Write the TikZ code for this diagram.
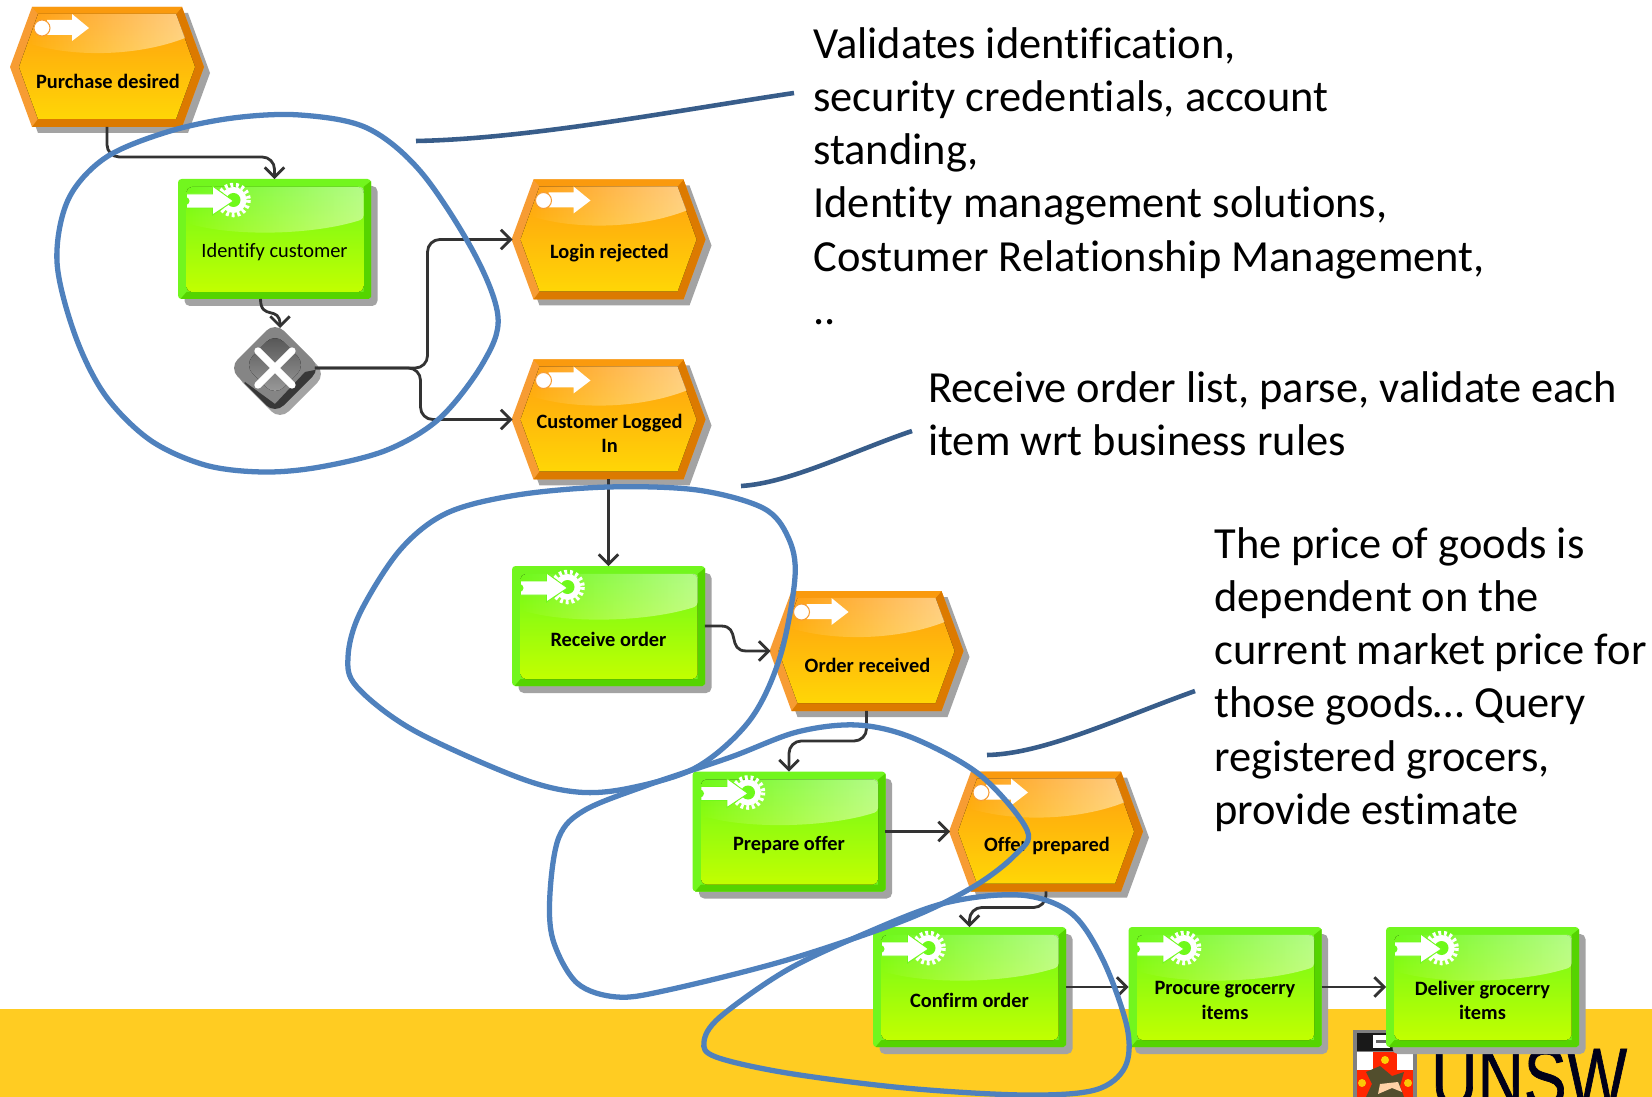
\documentclass[tikz,border=0pt]{standalone}
\usepackage{fontspec}
\setmainfont{Carlito}[Ligatures=NoCommon]
\newfontfamily\logofont{Liberation Sans}[FakeBold=1]
\usetikzlibrary{arrows.meta,calc,shapes.geometric,fadings}
\definecolor{shadowgray}{HTML}{A3A3A3}
\definecolor{evtLight}{HTML}{F79C33}
\definecolor{evtDark}{HTML}{DC7A00}
\definecolor{evtTop}{HTML}{FF9F10}
\definecolor{evtMid}{HTML}{FFAC08}
\definecolor{evtBot}{HTML}{FFD606}
\definecolor{fnLight}{HTML}{72F61E}
\definecolor{fnDark}{HTML}{55D400}
\definecolor{fnTop}{HTML}{6FF91A}
\definecolor{fnMid}{HTML}{95FF00}
\definecolor{fnBot}{HTML}{C2FF00}
\definecolor{band}{HTML}{FFCC22}
\definecolor{loopblue}{HTML}{4F81BD}
\definecolor{calloutblue}{HTML}{385D8A}
\definecolor{connector}{HTML}{333333}
\tikzfading[name=glossfade,left color=transparent!100,right color=transparent!52]
\tikzset{
  x=0.02cm,y=-0.02cm,
  conn/.style={draw=connector,line width=1.6pt,rounded corners=7pt,-{Straight Barb[length=5.5pt,width=11pt]}},
  loopcurve/.style={draw=loopblue,line width=3pt,smooth cycle,tension=0.55},
  callout/.style={draw=calloutblue,line width=2.6pt},
  anchorbox/.style={minimum width=3.86cm,minimum height=2.4cm,inner sep=0pt,outer sep=0pt},
  boxlabel/.style={align=center,text=black,inner sep=0pt,font=\fontsize{11.6}{14}\selectfont\bfseries},
  fnlabelplain/.style={boxlabel,font=\fontsize{11.6}{14}\selectfont},
  bigtext/.style={align=left,anchor=north west,inner sep=0pt,text=black,font=\fontsize{25.3}{30.3}\selectfont},
  gloss/.style={fill=white,path fading=glossfade},
}
\newcommand{\eventnode}[4]{%
  \begin{scope}[shift={(#2,#3)}]
    \fill[shadowgray] (-91,6)--(-69,-54)--(81,-54)--(103,6)--(81,66)--(-69,66)--cycle;
    \fill[evtLight] (-97,0)--(-75,-60)--(75,-60)--(97,0)--(75,60)--(-75,60)--cycle;
    \fill[evtDark] (75,-60)--(97,0)--(75,60)--(-75,60)--(-69,52)--(69,52)--(88,0)--(69,-53)--cycle;
    \fill[evtTop!85!evtDark] (-75,-60)--(75,-60)--(69,-53)--(-69,-53)--cycle;
    \fill[top color=evtTop,middle color=evtMid,bottom color=evtBot] (-88,0)--(-69,-53)--(69,-53)--(88,0)--(69,52)--(-69,52)--cycle;
    \fill[gloss] (-69,-53)--(69,-53)--(78,-29) .. controls (35,-12) and (-30,-8) .. (-80,-24)--cycle;
    \fill[white] (-60,-47)--(-35,-47)--(-35,-53)--(-18,-39)--(-35,-26)--(-35,-32)--(-60,-32)--cycle;
    \filldraw[fill=white,draw=evtLight,line width=0.6pt] (-65,-39) circle[radius=8];
    \node[anchorbox,minimum width=3.84cm] (#1) at (0,0) {};
    \node[boxlabel] (#1-text) at (1,14) {#4};
  \end{scope}}
\newcommand{\functionnode}[5][boxlabel]{%
  \begin{scope}[shift={(#3,#4)}]
    \fill[shadowgray,rounded corners=3pt] (-90,-53) rectangle (103,67);
    \fill[fnLight,rounded corners=2pt] (-96.5,-60) rectangle (96.5,60);
    \fill[fnDark] (96.5,-58)--(96.5,58)--(94,60)--(-94,60)--(-88,53)--(89,53)--(89,-52)--cycle;
    \fill[top color=fnTop,middle color=fnMid,bottom color=fnBot,rounded corners=3pt] (-88,-52) rectangle (89,53);
    \fill[gloss,rounded corners=2pt] (-88,-52)--(89,-52)--(89,-20) .. controls (40,-4) and (-40,-2) .. (-88,-16)--cycle;
    \draw[white,line width=2.6pt,dash pattern=on 1.6pt off 1.6pt] (-41,-39) circle[radius=15];
    \fill[white] (-41,-39) circle[radius=13];
    \fill[fnTop] (-41,-39) circle[radius=7];
    \filldraw[fill=white,draw=fnTop,line width=0.5pt] (-88,-45)--(-62,-45)--(-62,-53)--(-41,-38)--(-62,-24)--(-62,-31)--(-88,-31)--cycle;
    \fill[fnTop] (-89,-38) circle[radius=4];
    \node[anchorbox] (#2) at (0,0) {};
    \node[#1] (#2-text) at (0,13.5) {#5};
  \end{scope}}
\begin{document}
\begin{tikzpicture}
\useasboundingbox (0,0) rectangle (1652,1097);
\clip (0,0) rectangle (1652,1097);
\fill[white] (0,0) rectangle (1652,1097);
% footer band and logo
\fill[band] (0,1009) rectangle (1652,1097);
\fill[black!50] (1353,1030) rectangle (1417,1097);
\fill[black!90] (1357,1033) rectangle (1400,1051);
\fill[white] (1373,1035) rectangle (1390,1048);
\fill[black!60] (1376,1040) rectangle (1388,1043);
\fill[white] (1357,1052) rectangle (1413,1097);
\fill[red!70!orange] (1373,1052) rectangle (1397,1097);
\fill[red!70!orange] (1357,1070) rectangle (1413,1097);
\fill[yellow!70!orange] (1385,1060) circle[radius=4];
\fill[yellow!60!orange] (1362,1083) circle[radius=4];
\fill[yellow!60!orange] (1408,1083) circle[radius=4];
\fill[black!55!olive] (1366,1072)--(1372,1084)--(1366,1097)--(1404,1097)--(1400,1086)--(1404,1072)--(1392,1076)--(1380,1066)--cycle;
\fill[orange!35!white] (1380,1084)--(1398,1082)--(1402,1092)--(1392,1088)--(1378,1094)--cycle;
\node[anchor=base west,inner sep=0pt,xscale=0.76,text=black!90!blue,font=\fontsize{48}{50}\selectfont\logofont] (unsw) at (1431,1107) {UNSW};
% steps
\eventnode{pd}{107}{67}{Purchase desired}
\functionnode[fnlabelplain]{id}{274.5}{239}{Identify customer}
\eventnode{lr}{608.5}{239.5}{Login rejected}
\eventnode{cl}{608.5}{419.5}{Customer Logged\\In}
\functionnode{ro}{608.5}{626}{Receive order}
\eventnode{or}{866.5}{651}{Order received}
\functionnode{po}{789}{831.5}{Prepare offer}
\eventnode{op}{1046}{831.5}{Offer prepared}
\functionnode{co}{969.5}{987}{Confirm order}
\functionnode{pg}{1225}{987}{Procure grocerry\\items}
\functionnode{dg}{1482.5}{987}{Deliver grocerry\\items}
% gateway
\begin{scope}[shift={(275,368)}]
  \fill[shadowgray,rounded corners=7pt] (5,-40)--(51,6)--(5,52)--(-41,6)--cycle;
  \begin{scope}
    \clip[rounded corners=7pt] (0,-46)--(46,0)--(0,46)--(-46,0)--cycle;
    \fill[black!48] (-50,-50) rectangle (50,50);
    \fill[black!78] (-30,14)--(0,36)--(30,4)--(50,0)--(50,50)--(-50,50)--cycle;
  \end{scope}
  \fill[top color=black!68,bottom color=black!38,rounded corners=7pt] (0,-35)--(31,-3)--(0,28)--(-31,-3)--cycle;
  \draw[white,line width=4.2pt,line cap=round] (-17,-17)--(17,17) (-17,17)--(17,-17);
  \node[shape=diamond,minimum size=1.6cm,inner sep=0pt,outer sep=0pt] (gw) at (0,0) {};
\end{scope}
% connectors
\draw[conn] (pd.south) -- ++(0,30) -| (id.north);
\draw[conn] ($(id.south)+(-14,0)$) .. controls +(0,22) and +(0,-23) .. ($(gw.north)+(5,0)$);
\draw[conn] (gw.east) -| ($(lr.west)+(-85,0)$) -- (lr.west);
\draw[conn] (gw.east) -| ($(cl.west)+(-92,0)$) -- (cl.west);
\draw[conn] (cl.south) -- (ro.north);
\draw[conn,rounded corners=0pt] (ro.east) -- ++(16,0) .. controls +(20,0) and ($(or.west)+(-44,0)$) .. ($(or.west)+(-24,0)$) -- (or.west);
\draw[conn] (or.south) -- ++(0,30) -| (po.north);
\draw[conn] (po.east) -- (op.west);
\draw[conn] (op.south) -- ++(0,16) -| (co.north);
\draw[conn] (co.east) -- (pg.west);
\draw[conn] (pg.east) -- (dg.west);
% hand-drawn loops
\draw[loopcurve] plot coordinates {(105,158) (167,132) (233,118) (300,115) (367,128) (421,172) (474,253) (498,317) (483,363) (440,418) (387,450) (320,467) (263,472) (205,465) (150,440) (105,395) (75,335) (57,262) (68,200)};
\draw[loopcurve] plot coordinates {(608,487) (697,490) (763,508) (788,537) (795,577) (780,657) (750,720) (697,767) (630,788) (577,792) (517,777) (413,730) (357,687) (348,657) (360,613) (400,550) (447,513) (517,495)};
\draw[loopcurve] plot coordinates {(857,725) (913,738) (980,775) (1027,830) (1015,855) (973,887) (905,920) (787,960) (668,990) (617,997) (577,983) (553,940) (550,893) (559,837) (585,810) (648,785) (731,757) (797,732)};
\draw[loopcurve] plot coordinates {(1020,895) (1071,913) (1103,960) (1127,1027) (1125,1067) (1095,1090) (1024,1095) (905,1088) (787,1073) (716,1057) (704,1042) (720,1017) (787,970) (866,933) (945,903)};
\coordinate (c1a) at (416,141); \coordinate (c1b) at (794,93);
\coordinate (c2a) at (741,486); \coordinate (c2b) at (912,431);
\coordinate (c3a) at (987,755); \coordinate (c3b) at (1195,691);
\draw[callout] (c1a) .. controls (527,139) and (674,111) .. (c1b);
\draw[callout] (c2a) .. controls (790,483) and (853,451) .. (c2b);
\draw[callout] (c3a) .. controls (1043,754) and (1117,719) .. (c3b);
% annotations
\node[bigtext] (t1) at (813,27) {Validates identification,\\security credentials, account\\standing,\\Identity management solutions,\\Costumer Relationship Management,\\..};
\node[bigtext] (t2) at (928,371) {Receive order list, parse, validate each\\item wrt business rules};
\node[bigtext] (t3) at (1214,527) {The price of goods is\\dependent on the\\current market price for\\those goods… Query\\registered grocers,\\provide estimate};
\end{tikzpicture}
\end{document}
